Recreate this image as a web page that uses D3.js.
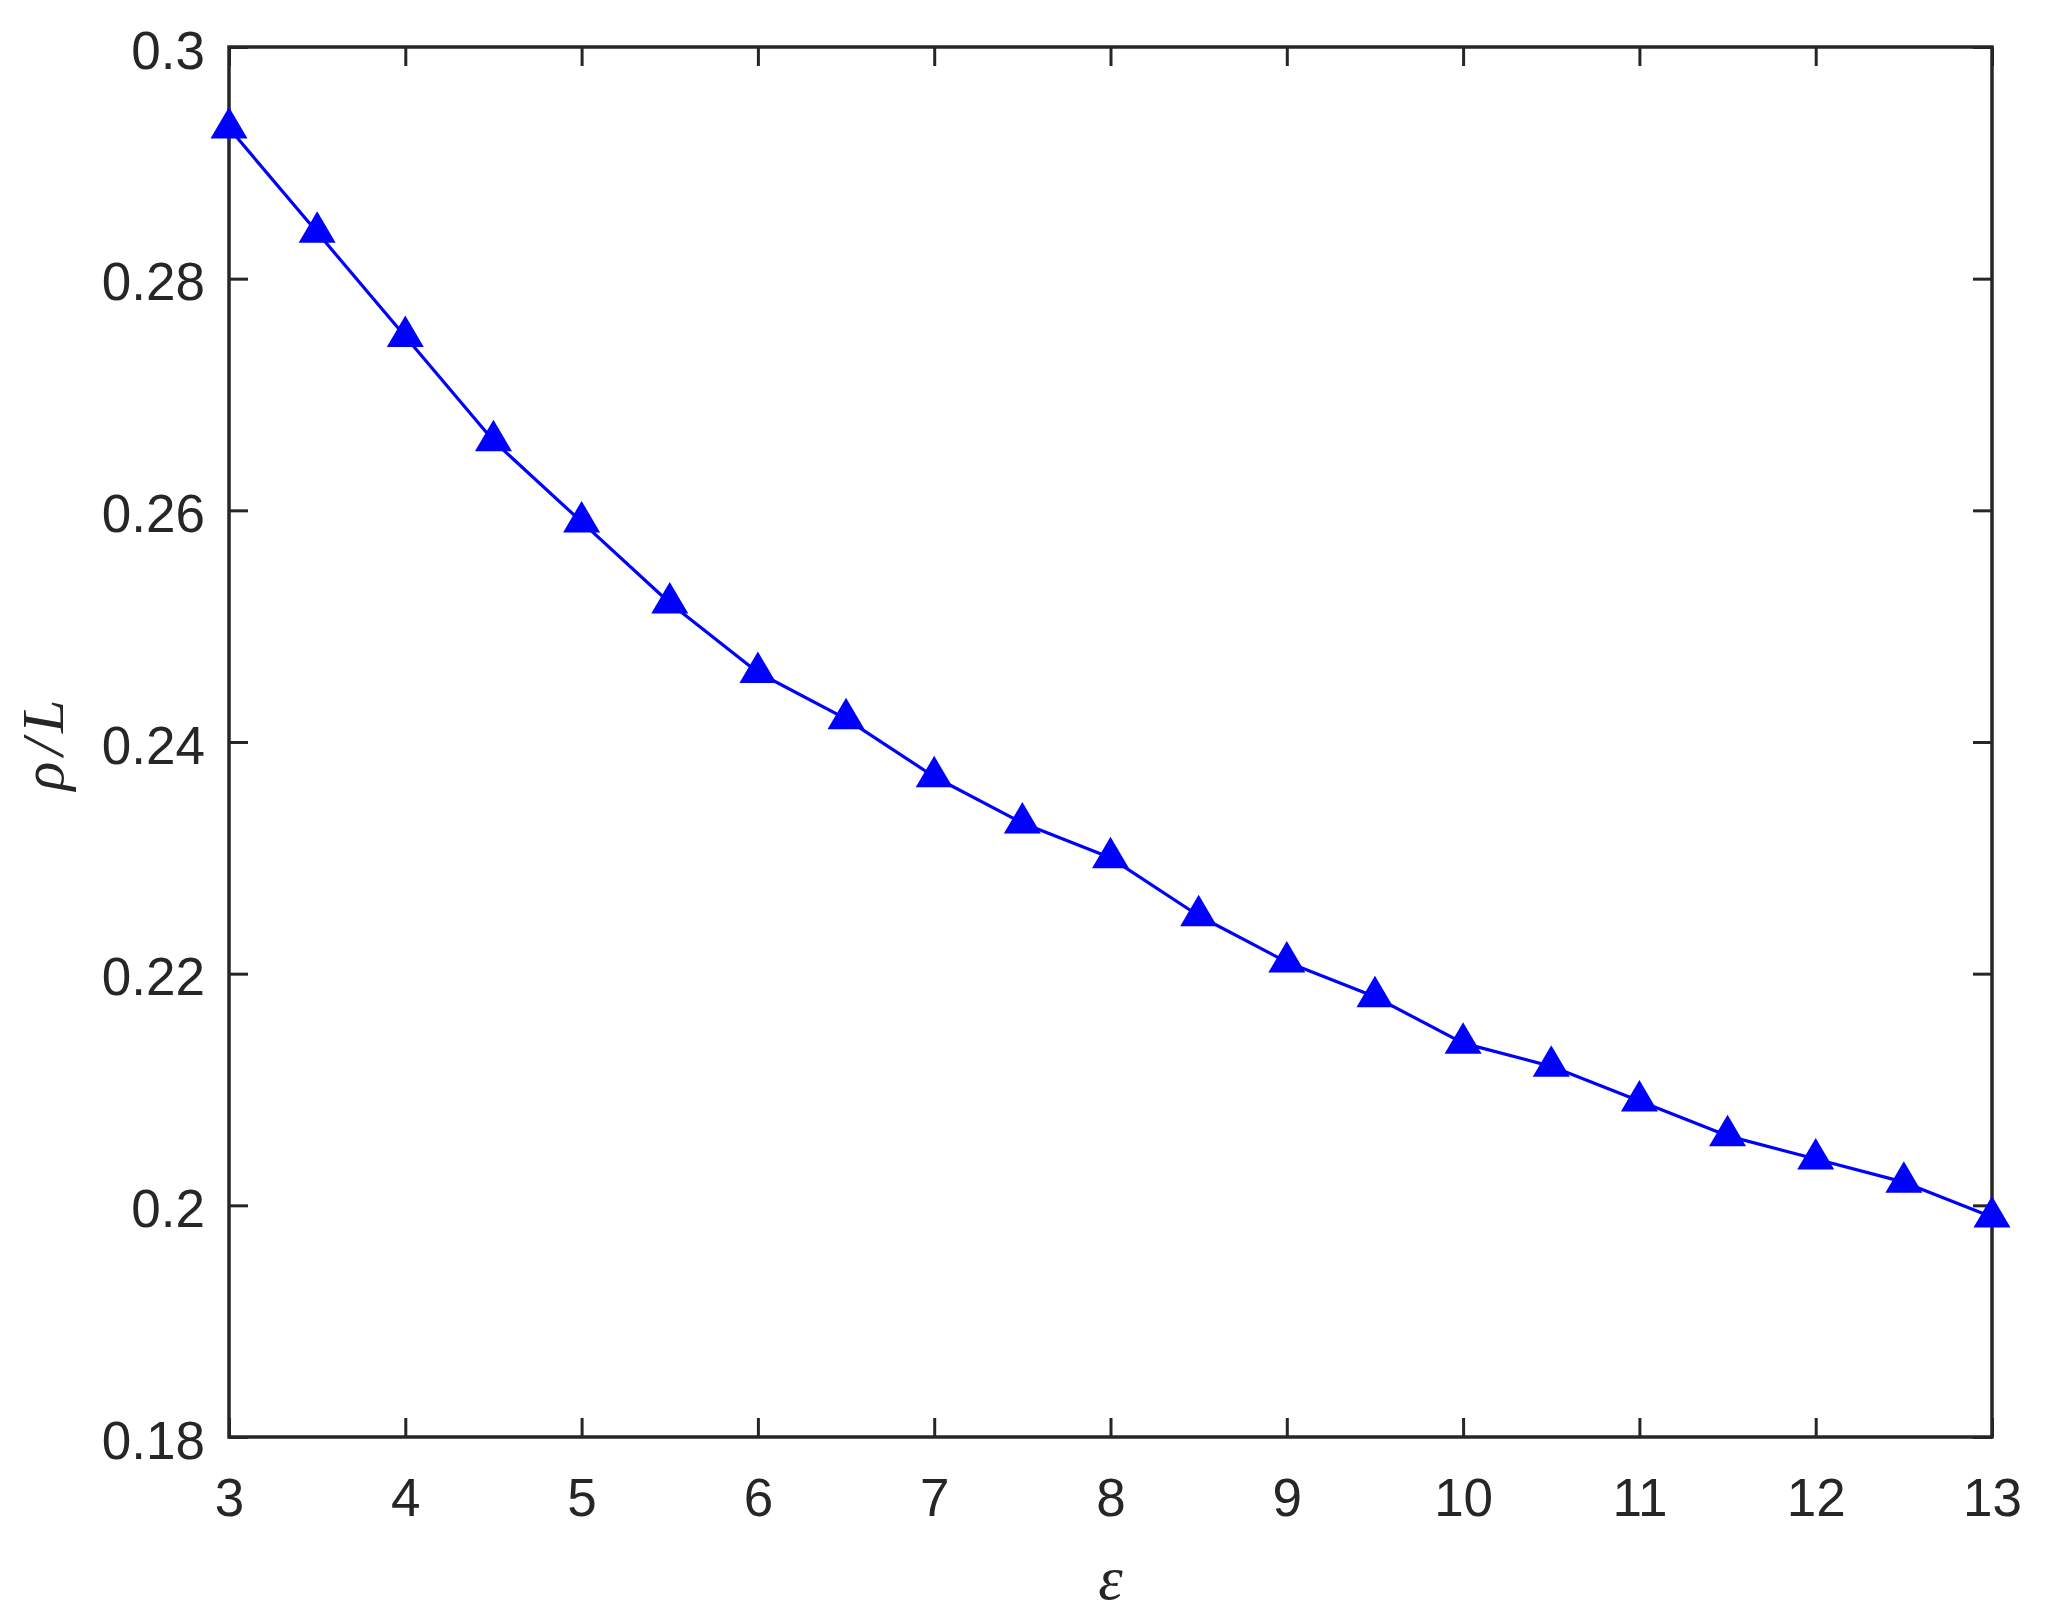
<!DOCTYPE html>
<html><head><meta charset="utf-8">
<script src="https://cdn.jsdelivr.net/npm/d3@7"></script>
<style>html,body{margin:0;padding:0;background:#fff;}</style>
</head><body>
<script>
const epsilon = [3,3.5,4,4.5,5,5.5,6,6.5,7,7.5,8,8.5,9,9.5,10,10.5,11,11.5,12,12.5,13];
const rhoL = [0.293,0.284,0.275,0.266,0.259,0.252,0.246,0.242,0.237,0.233,0.230,0.225,0.221,0.218,0.214,0.212,0.209,0.206,0.204,0.202,0.199];
const xTicks = [3,4,5,6,7,8,9,10,11,12,13];
const yTicks = [0.18,0.2,0.22,0.24,0.26,0.28,0.3];
const yTickLabels = ["0.18","0.2","0.22","0.24","0.26","0.28","0.3"];

const W = 2049, H = 1622;
const L = 229, R = 1992, T = 47, B = 1437;
const ink = "#262626";
const svg = d3.select("body").append("svg").attr("width", W).attr("height", H);
const x = d3.scaleLinear().domain([3,13]).range([L,R]);
const y = d3.scaleLinear().domain([0.18,0.3]).range([B,T]);
const tickLen = 19, fs = 53, font = "'Liberation Sans', Arial, sans-serif";

function style(g){
  g.select(".domain").remove();
  g.selectAll(".tick line").attr("stroke", ink).attr("stroke-width", 3);
  g.selectAll(".tick text").attr("fill", ink).style("font-family", font).style("font-size", fs+"px");
}
// bottom
svg.append("g").attr("transform",`translate(0,${B})`)
  .call(d3.axisBottom(x).tickValues(xTicks).tickSizeInner(-tickLen).tickSizeOuter(0).tickPadding(0).tickFormat(d3.format("d")))
  .call(style).call(g=>g.selectAll(".tick text").attr("y",79).attr("dy",0));
// top
svg.append("g").attr("transform",`translate(0,${T})`)
  .call(d3.axisTop(x).tickValues(xTicks).tickSizeInner(-tickLen).tickSizeOuter(0).tickFormat(""))
  .call(style);
// left
svg.append("g").attr("transform",`translate(${L},0)`)
  .call(d3.axisLeft(y).tickValues(yTicks).tickSizeInner(-tickLen).tickSizeOuter(0).tickFormat((d,i)=>yTickLabels[i]))
  .call(style).call(g=>g.selectAll(".tick text").attr("x",-24).attr("dy","0.4em"));
// right
svg.append("g").attr("transform",`translate(${R},0)`)
  .call(d3.axisRight(y).tickValues(yTicks).tickSizeInner(-tickLen).tickSizeOuter(0).tickFormat(""))
  .call(style);
// box
svg.append("rect").attr("x",L).attr("y",T).attr("width",R-L).attr("height",B-T)
  .attr("fill","none").attr("stroke",ink).attr("stroke-width",3.5);

const data = epsilon.map((e,i)=>({e, v: rhoL[i]}));
svg.append("path").datum(data)
  .attr("fill","none").attr("stroke","#0000ff").attr("stroke-width",3.2).attr("stroke-linejoin","round")
  .attr("d", d3.line().x(d=>x(d.e)).y(d=>y(d.v)));
svg.append("g").selectAll("path").data(data).join("path")
  .attr("transform", d=>`translate(${x(d.e)},${y(d.v)})`)
  .attr("d","M0,-21L18.5,10.5L-18.5,10.5Z")
  .attr("fill","#0000ff");

// axis labels
svg.append("text").attr("x",(L+R)/2).attr("y",1599).attr("text-anchor","middle")
  .style("font-family","'Liberation Serif','DejaVu Serif',serif").style("font-style","italic")
  .style("font-size","62px").attr("fill",ink).text("ε");
svg.append("text").attr("transform",`translate(63,${(T+B)/2}) rotate(-90)`).attr("text-anchor","middle")
  .style("font-family","'Liberation Serif','DejaVu Serif',serif").style("font-style","italic")
  .style("font-size","60px").style("letter-spacing","6px").attr("fill",ink).text("ρ/L");
</script>
</body></html>
